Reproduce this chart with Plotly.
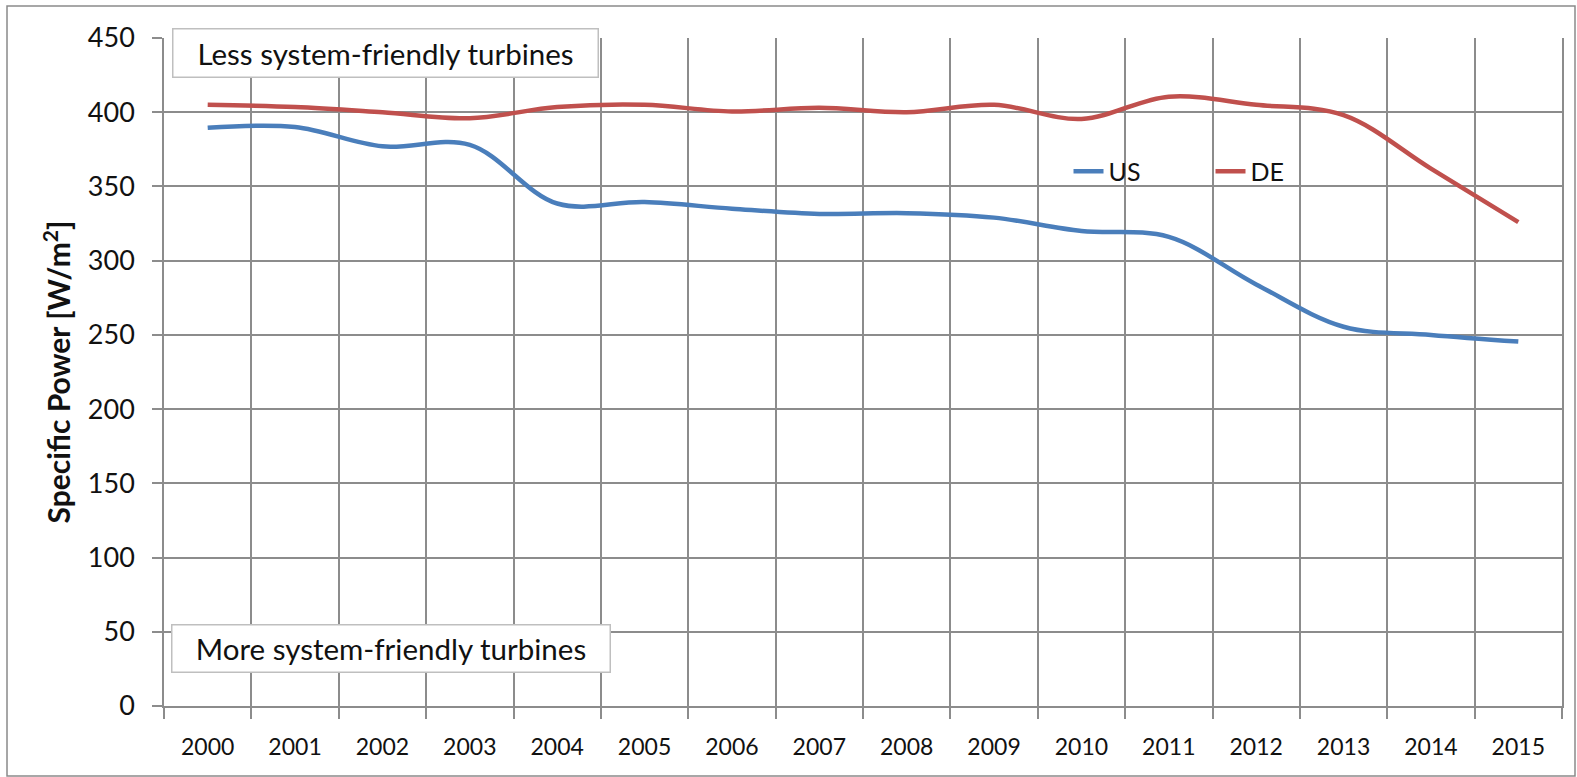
import plotly.graph_objects as go

# Average specific power of newly installed wind turbines
years = ["2000", "2001", "2002", "2003", "2004", "2005", "2006", "2007",
         "2008", "2009", "2010", "2011", "2012", "2013", "2014", "2015"]
us_values = [389.5, 390, 377, 378, 338.5, 339.5, 335, 331.5,
             332, 329, 320, 316, 284, 255.5, 250, 245.5]
de_values = [405, 403.5, 400, 396, 403.5, 405, 400.5, 403,
             400, 405, 395.5, 410.5, 405, 398, 362, 326]
y_ticks = [0, 50, 100, 150, 200, 250, 300, 350, 400, 450]

FONT = "Lato"
GRID = "#8c8c8c"
TEXT = "#111111"

fig = go.Figure()
fig.add_trace(go.Scatter(
    x=years, y=us_values, name="US", mode="lines",
    line=dict(color="#4a7ebb", width=4.5, shape="spline", smoothing=1.0),
))
fig.add_trace(go.Scatter(
    x=years, y=de_values, name="DE", mode="lines",
    line=dict(color="#c0504d", width=4.5, shape="spline", smoothing=1.0),
))

fig.update_layout(
    width=1577, height=777,
    margin=dict(l=164, r=15, t=38, b=71),
    paper_bgcolor="white", plot_bgcolor="white",
    font=dict(family=FONT, color=TEXT),
    showlegend=True,
    legend=dict(
        orientation="h", x=0.647, y=0.80, xanchor="left", yanchor="middle",
        bgcolor="rgba(0,0,0,0)", font=dict(size=25, family=FONT, color=TEXT),
        entrywidth=97, entrywidthmode="pixels", tracegroupgap=0,
    ),
    xaxis=dict(
        type="category", range=[-0.5, 15.5], tickson="boundaries",
        showgrid=True, gridcolor=GRID, gridwidth=1.5,
        ticks="outside", ticklen=11, tickcolor=GRID, tickwidth=1.5,
        showline=True, linecolor=GRID, linewidth=1.5,
        tickfont=dict(size=23, family=FONT, color=TEXT),
        ticklabelstandoff=20,
    ),
    yaxis=dict(
        range=[0, 450], tickvals=y_ticks,
        showgrid=True, gridcolor=GRID, gridwidth=1.5,
        ticks="outside", ticklen=10, tickcolor=GRID, tickwidth=1.5,
        showline=True, linecolor=GRID, linewidth=1.5, mirror=True,
        zeroline=False,
        tickfont=dict(size=27, family=FONT, color=TEXT),
        ticklabelstandoff=12,
        title=dict(text="<b>Specific Power [W/m<sup>2</sup>]</b>",
                   font=dict(size=30, family=FONT, color=TEXT),
                   standoff=8),
    ),
)

# Explanatory boxes at the top and bottom of the value range
fig.add_annotation(
    text="Less system-friendly turbines", xref="paper", yref="paper",
    x=0.0057, y=1.015, xanchor="left", yanchor="top", showarrow=False,
    font=dict(size=29.5, family=FONT, color=TEXT),
    bgcolor="white", bordercolor="#bfbfbf", borderwidth=1.5, borderpad=5,
    width=414, height=37, align="center", valign="middle",
)
fig.add_annotation(
    text="More system-friendly turbines", xref="paper", yref="paper",
    x=0.005, y=0.1227, xanchor="left", yanchor="top", showarrow=False,
    font=dict(size=29.5, family=FONT, color=TEXT),
    bgcolor="white", bordercolor="#bfbfbf", borderwidth=1.5, borderpad=5,
    width=427, height=36, align="center", valign="middle",
)

# Outer chart frame
fig.add_shape(
    type="rect", xref="paper", yref="paper",
    x0=-0.1123, x1=1.0093, y0=-0.1048, y1=1.0479,
    line=dict(color="#8a8a8a", width=1.5), layer="below",
)

fig.write_html("out.html")
